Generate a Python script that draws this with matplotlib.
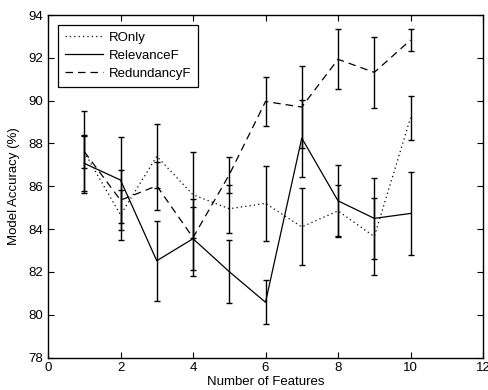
import matplotlib
matplotlib.use("Agg")
import matplotlib.pyplot as plt
import numpy as np

plt.rcParams['font.family'] = ['Liberation Sans', 'DejaVu Sans']

# number of features
n_features = [1, 2, 3, 4, 5, 6, 7, 8, 9, 10]

# mean accuracy (%) and error bar half-widths
ronly = [87.6, 84.66, 87.4, 85.6, 84.95, 85.2, 84.1, 84.85, 83.65, 89.2]
ronly_err = [1.9, 1.17, 1.5, 2.0, 1.12, 1.75, 1.8, 1.23, 1.8, 1.03]

relevance = [87.07, 86.29, 82.52, 83.55, 82.01, 80.58, 88.25, 85.32, 84.5, 84.73]
relevance_err = [1.3, 2.0, 1.86, 1.48, 1.48, 1.03, 1.8, 1.66, 1.89, 1.92]

redundancy = [87.62, 85.35, 86.02, 83.6, 86.54, 89.96, 89.7, 91.93, 91.32, 92.83]
redundancy_err = [0.78, 1.4, 1.12, 1.8, 0.84, 1.13, 1.9, 1.4, 1.66, 0.5]

fig = plt.figure(figsize=(4.88, 3.9), dpi=100)
ax = fig.add_axes([0.0984, 0.0833, 0.8914, 0.8782])

c1 = ax.errorbar(n_features, ronly, yerr=ronly_err, color='black', linestyle=(0, (1, 2.5)),
                 linewidth=0.9, elinewidth=1.0, capsize=2.5, capthick=1.0, label='ROnly')
c2 = ax.errorbar(n_features, relevance, yerr=relevance_err, color='black', linestyle='-',
                 linewidth=0.9, elinewidth=1.0, capsize=2.5, capthick=1.0, label='RelevanceF')
c3 = ax.errorbar(n_features, redundancy, yerr=redundancy_err, color='black',
                 linestyle=(0, (6, 4)), linewidth=0.9, elinewidth=1.0, capsize=2.5,
                 capthick=1.0, label='RedundancyF')

ax.set_xlim(0, 12)
ax.set_ylim(78, 94)
ax.set_xticks(range(0, 13, 2))
ax.set_yticks(range(78, 95, 2))
ax.tick_params(direction='in', top=True, right=True, length=4, width=0.8, labelsize=9.5)
for s in ax.spines.values():
    s.set_linewidth(1.0)

ax.set_xlabel('Number of Features', fontsize=9.5, labelpad=1)
ax.set_ylabel('Model Accuracy (%)', fontsize=9.5, labelpad=6)

# legend shows only the lines, not the error bars
leg = ax.legend(handles=[c1[0], c2[0], c3[0]], labels=['ROnly', 'RelevanceF', 'RedundancyF'],
                loc='upper left', fontsize=9.5, fancybox=False, framealpha=1,
                edgecolor='black', borderaxespad=0.75, handlelength=2.9,
                labelspacing=0.45, borderpad=0.5, handletextpad=0.5)
leg.get_frame().set_linewidth(0.9)

fig.savefig('out.png', dpi=100)
